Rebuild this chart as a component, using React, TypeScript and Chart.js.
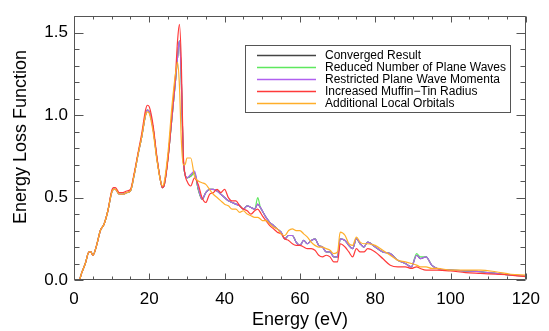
import React, { useEffect, useRef } from "react";
import { Chart, registerables } from "chart.js";

Chart.register(...registerables);

// ---- data ----
const ENERGY = [
  0, 1, 1.5, 2, 3,
  4, 4.5, 5, 6, 7,
  8, 9, 10, 10.5, 11,
  12, 13, 14, 15, 16,
  17, 18, 19, 19.5, 20,
  21, 22, 23, 23.5, 24,
  25, 26, 27, 27.5, 28,
  28.5, 29, 29.5, 30, 31,
  32, 33, 34, 35, 36,
  37, 38, 39, 40, 41,
  42, 43, 44, 45, 46,
  47, 48, 48.8, 49.5, 50,
  51, 52, 53, 54, 55,
  56, 57, 58, 59, 60,
  61, 62, 63, 64, 65,
  66, 67, 68, 69, 70,
  70.7, 72, 73, 74, 75,
  76, 77, 78, 80, 82,
  84, 86, 88, 89.6, 91,
  92, 93.5, 95, 96.5, 100,
  104, 108, 112, 116, 120,
];

const CONVERGED = [
  0, 0, 0.005, 0.04, 0.1,
  0.17, 0.17, 0.15, 0.21, 0.3,
  0.34, 0.42, 0.53, 0.55, 0.55,
  0.52, 0.52, 0.53, 0.54, 0.64,
  0.76, 0.87, 1.0, 1.03, 1.02,
  0.92, 0.74, 0.6, 0.56, 0.58,
  0.75, 0.98, 1.22, 1.35, 1.45,
  1.22, 0.75, 0.64, 0.62, 0.63,
  0.65, 0.55, 0.49, 0.53, 0.55,
  0.55, 0.54, 0.52, 0.5, 0.48,
  0.47, 0.46, 0.45, 0.43, 0.45,
  0.44, 0.43, 0.46, 0.44, 0.42,
  0.38, 0.35, 0.33, 0.31, 0.29,
  0.25, 0.27, 0.27, 0.23, 0.21,
  0.24, 0.22, 0.24, 0.25, 0.21,
  0.2, 0.17, 0.17, 0.14, 0.14,
  0.25, 0.24, 0.21, 0.19, 0.25,
  0.22, 0.2, 0.23, 0.2, 0.17,
  0.16, 0.12, 0.1, 0.08, 0.15,
  0.13, 0.14, 0.09, 0.07, 0.06,
  0.055, 0.05, 0.04, 0.03, 0.025,
];

const REDUCED_PLANE_WAVES = [
  0, 0, 0.005, 0.04, 0.1,
  0.17, 0.17, 0.15, 0.21, 0.3,
  0.34, 0.42, 0.53, 0.55, 0.55,
  0.52, 0.52, 0.53, 0.54, 0.64,
  0.76, 0.87, 1.0, 1.03, 1.02,
  0.92, 0.74, 0.6, 0.56, 0.58,
  0.75, 0.98, 1.22, 1.35, 1.45,
  1.22, 0.75, 0.64, 0.62, 0.63,
  0.65, 0.55, 0.49, 0.53, 0.55,
  0.55, 0.54, 0.52, 0.5, 0.48,
  0.47, 0.46, 0.45, 0.43, 0.45,
  0.44, 0.43, 0.5, 0.44, 0.42,
  0.38, 0.35, 0.33, 0.31, 0.29,
  0.25, 0.27, 0.27, 0.23, 0.21,
  0.24, 0.22, 0.24, 0.25, 0.21,
  0.2, 0.17, 0.17, 0.14, 0.14,
  0.25, 0.24, 0.21, 0.19, 0.25,
  0.22, 0.2, 0.23, 0.2, 0.17,
  0.16, 0.12, 0.1, 0.08, 0.16,
  0.14, 0.14, 0.09, 0.07, 0.06,
  0.055, 0.05, 0.04, 0.03, 0.025,
];

const RESTRICTED_MOMENTA = [
  0, 0, 0.005, 0.04, 0.1,
  0.17, 0.17, 0.15, 0.21, 0.3,
  0.34, 0.42, 0.53, 0.55, 0.55,
  0.52, 0.52, 0.53, 0.54, 0.64,
  0.76, 0.87, 1.0, 1.03, 1.02,
  0.92, 0.74, 0.6, 0.56, 0.58,
  0.75, 0.98, 1.22, 1.35, 1.45,
  1.22, 0.75, 0.64, 0.62, 0.64,
  0.66, 0.56, 0.49, 0.53, 0.55,
  0.55, 0.54, 0.52, 0.5, 0.48,
  0.47, 0.46, 0.45, 0.43, 0.45,
  0.44, 0.43, 0.46, 0.44, 0.42,
  0.38, 0.35, 0.33, 0.31, 0.29,
  0.25, 0.27, 0.27, 0.23, 0.21,
  0.24, 0.22, 0.24, 0.25, 0.21,
  0.2, 0.17, 0.17, 0.14, 0.14,
  0.25, 0.24, 0.21, 0.19, 0.25,
  0.22, 0.2, 0.23, 0.2, 0.17,
  0.16, 0.12, 0.1, 0.08, 0.15,
  0.13, 0.14, 0.09, 0.07, 0.06,
  0.055, 0.05, 0.04, 0.03, 0.025,
];

const MUFFIN_TIN = [
  0, 0, 0.005, 0.04, 0.1,
  0.17, 0.17, 0.15, 0.21, 0.3,
  0.34, 0.42, 0.54, 0.56, 0.56,
  0.53, 0.53, 0.54, 0.55, 0.65,
  0.77, 0.89, 1.03, 1.06, 1.05,
  0.94, 0.75, 0.6, 0.56, 0.58,
  0.74, 1.0, 1.26, 1.45, 1.55,
  1.32, 0.78, 0.64, 0.6, 0.57,
  0.62, 0.58, 0.5, 0.47, 0.52,
  0.53, 0.55, 0.53, 0.55, 0.5,
  0.48, 0.48, 0.45, 0.43, 0.42,
  0.4, 0.42, 0.43, 0.41, 0.39,
  0.36, 0.33, 0.31, 0.29, 0.28,
  0.25, 0.24, 0.22, 0.21, 0.21,
  0.2, 0.19, 0.19, 0.18, 0.15,
  0.14, 0.15, 0.14, 0.11, 0.11,
  0.22, 0.2, 0.17, 0.14, 0.19,
  0.17, 0.17, 0.19, 0.17, 0.13,
  0.09, 0.08, 0.08, 0.07, 0.08,
  0.07, 0.06, 0.06, 0.06, 0.055,
  0.045, 0.04, 0.035, 0.03, 0.02,
];

const LOCAL_ORBITALS = [
  0, 0, 0.005, 0.04, 0.1,
  0.17, 0.17, 0.15, 0.21, 0.3,
  0.34, 0.42, 0.53, 0.55, 0.55,
  0.52, 0.52, 0.53, 0.54, 0.64,
  0.76, 0.87, 1.0, 1.02, 1.01,
  0.9, 0.73, 0.6, 0.57, 0.6,
  0.78, 1.05, 1.26, 1.32, 1.18,
  0.85, 0.7, 0.7, 0.74, 0.74,
  0.63, 0.6, 0.59, 0.58, 0.55,
  0.52, 0.5, 0.48, 0.46, 0.45,
  0.43, 0.43, 0.41, 0.42, 0.4,
  0.39, 0.38, 0.38, 0.37, 0.36,
  0.36, 0.34, 0.32, 0.31, 0.28,
  0.27, 0.3, 0.31, 0.3, 0.3,
  0.28, 0.26, 0.23, 0.21, 0.2,
  0.2, 0.19, 0.18, 0.16, 0.17,
  0.29, 0.27, 0.22, 0.21, 0.26,
  0.23, 0.22, 0.22, 0.21, 0.18,
  0.15, 0.12, 0.11, 0.1, 0.09,
  0.08, 0.08, 0.07, 0.07, 0.06,
  0.06, 0.06, 0.05, 0.035, 0.03,
];

const SERIES_LABELS = [
  "Converged Result",
  "Reduced Number of Plane Waves",
  "Restricted Plane Wave Momenta",
  "Increased Muffin\u2212Tin Radius",
  "Additional Local Orbitals",
];
const SERIES_COLORS = ["#444444", "#5ee85e", "#b060f0", "#ff3a3a", "#ffae2a"];
const SERIES_VALUES = [CONVERGED, REDUCED_PLANE_WAVES, RESTRICTED_MOMENTA, MUFFIN_TIN, LOCAL_ORBITALS];

const X_MIN = 0;
const X_MAX = 120;
const X_MAJOR = 20;
const X_MINOR = 5;
const Y_MIN = 0;
const Y_MAX = 1.6;
const Y_MAJOR = 0.5;
const Y_MINOR = 0.1;
const X_TITLE = "Energy (eV)";
const Y_TITLE = "Energy Loss Function";

const FONT = "'Liberation Sans', Arial, Helvetica, sans-serif";
const FRAME = "#555555";

const framePlugin = {
  id: "framePlugin",
  afterDraw(chart: any) {
    const { ctx, chartArea: a, scales } = chart;
    const xs = scales.x;
    const ys = scales.y;
    const L = Math.round(a.left) + 0.5;
    const R = Math.round(a.right) - 0.5;
    const T = Math.round(a.top) + 0.5;
    const B = Math.round(a.bottom) - 0.5;
    ctx.save();
    ctx.strokeStyle = FRAME;
    ctx.lineWidth = 1;
    ctx.beginPath();
    ctx.rect(L, T, R - L, B - T);
    ctx.stroke();
    // x ticks (bottom and top)
    ctx.beginPath();
    for (let v = X_MIN; v <= X_MAX + 1e-9; v += X_MINOR) {
      const major = Math.abs(v / X_MAJOR - Math.round(v / X_MAJOR)) < 1e-6;
      const len = major ? 6 : 3;
      const px = Math.round(xs.getPixelForValue(v)) + 0.5;
      ctx.moveTo(px, B);
      ctx.lineTo(px, B - len);
      ctx.moveTo(px, T);
      ctx.lineTo(px, T + len);
    }
    // y ticks (left and right)
    for (let i = 0; i * Y_MINOR <= Y_MAX + 1e-9; i++) {
      const v = Y_MIN + i * Y_MINOR;
      const major = Math.abs(v / Y_MAJOR - Math.round(v / Y_MAJOR)) < 1e-6;
      const len = major ? 9 : 5;
      const py = Math.round(ys.getPixelForValue(v)) + 0.5;
      ctx.moveTo(L, py);
      ctx.lineTo(L + len, py);
      ctx.moveTo(R, py);
      ctx.lineTo(R - len, py);
    }
    ctx.stroke();

    // axis titles
    ctx.fillStyle = "#000";
    ctx.font = `18px ${FONT}`;
    ctx.textAlign = "center";
    ctx.textBaseline = "alphabetic";
    ctx.fillText(X_TITLE, (a.left + a.right) / 2, 325);
    ctx.save();
    ctx.translate(26, 137);
    ctx.rotate(-Math.PI / 2);
    ctx.fillText(Y_TITLE, 0, 0);
    ctx.restore();

    // legend
    const bx = 245.5, by = 45.5, bw = 265, bh = 67;
    ctx.fillStyle = "#fff";
    ctx.fillRect(bx, by, bw, bh);
    ctx.strokeStyle = FRAME;
    ctx.lineWidth = 1;
    ctx.strokeRect(bx, by, bw, bh);
    ctx.font = `12px ${FONT}`;
    ctx.textAlign = "left";
    ctx.textBaseline = "middle";
    for (let i = 0; i < SERIES_LABELS.length; i++) {
      const y = 55.5 + i * 12;
      ctx.beginPath();
      ctx.strokeStyle = SERIES_COLORS[i];
      ctx.lineWidth = 1.5;
      ctx.moveTo(257, y);
      ctx.lineTo(316, y);
      ctx.stroke();
      ctx.fillStyle = "#000";
      ctx.fillText(SERIES_LABELS[i], 325, y + 0.5);
    }
    ctx.restore();
  },
};

export default function App() {
  const ref = useRef<HTMLCanvasElement | null>(null);
  useEffect(() => {
    if (!ref.current) return;
    const datasets = SERIES_VALUES.map((vals, i) => ({
      label: SERIES_LABELS[i],
      data: ENERGY.map((e, j) => ({ x: e, y: vals[j] })),
      borderColor: SERIES_COLORS[i],
      backgroundColor: SERIES_COLORS[i],
      borderWidth: 1.2,
      pointRadius: 0,
      fill: false,
      cubicInterpolationMode: "monotone" as const,
      order: SERIES_VALUES.length - i,
    }));
    const chart = new Chart(ref.current, {
      type: "line",
      data: { datasets },
      plugins: [framePlugin],
      options: {
        animation: false,
        responsive: false,
        maintainAspectRatio: false,
        layout: { padding: { top: 13, right: 18, left: 0, bottom: 0 } },
        plugins: { legend: { display: false }, tooltip: { enabled: false } },
        scales: {
          x: {
            type: "linear",
            min: X_MIN,
            max: X_MAX,
            grid: { display: false, drawTicks: false },
            border: { display: false },
            ticks: {
              stepSize: X_MAJOR,
              includeBounds: false,
              padding: 9,
              color: "#000",
              font: { size: 17, family: FONT },
              maxRotation: 0,
              callback: (v: any) => String(v),
            },
            afterFit: (s: any) => {
              s.height = 51;
            },
          },
          y: {
            type: "linear",
            min: Y_MIN,
            max: Y_MAX,
            grid: { display: false, drawTicks: false },
            border: { display: false },
            ticks: {
              stepSize: Y_MAJOR,
              includeBounds: false,
              padding: 6,
              color: "#000",
              font: { size: 17, family: FONT },
              callback: (v: any) => Number(v).toFixed(1),
            },
            afterFit: (s: any) => {
              s.width = 74;
            },
          },
        },
      },
    });
    return () => chart.destroy();
  }, []);
  return (
    <div style={{ position: "fixed", left: 0, top: 0, width: 549, height: 331, background: "#fff" }}>
      <canvas ref={ref} width={549} height={331} style={{ width: 549, height: 331, display: "block" }} />
    </div>
  );
}
